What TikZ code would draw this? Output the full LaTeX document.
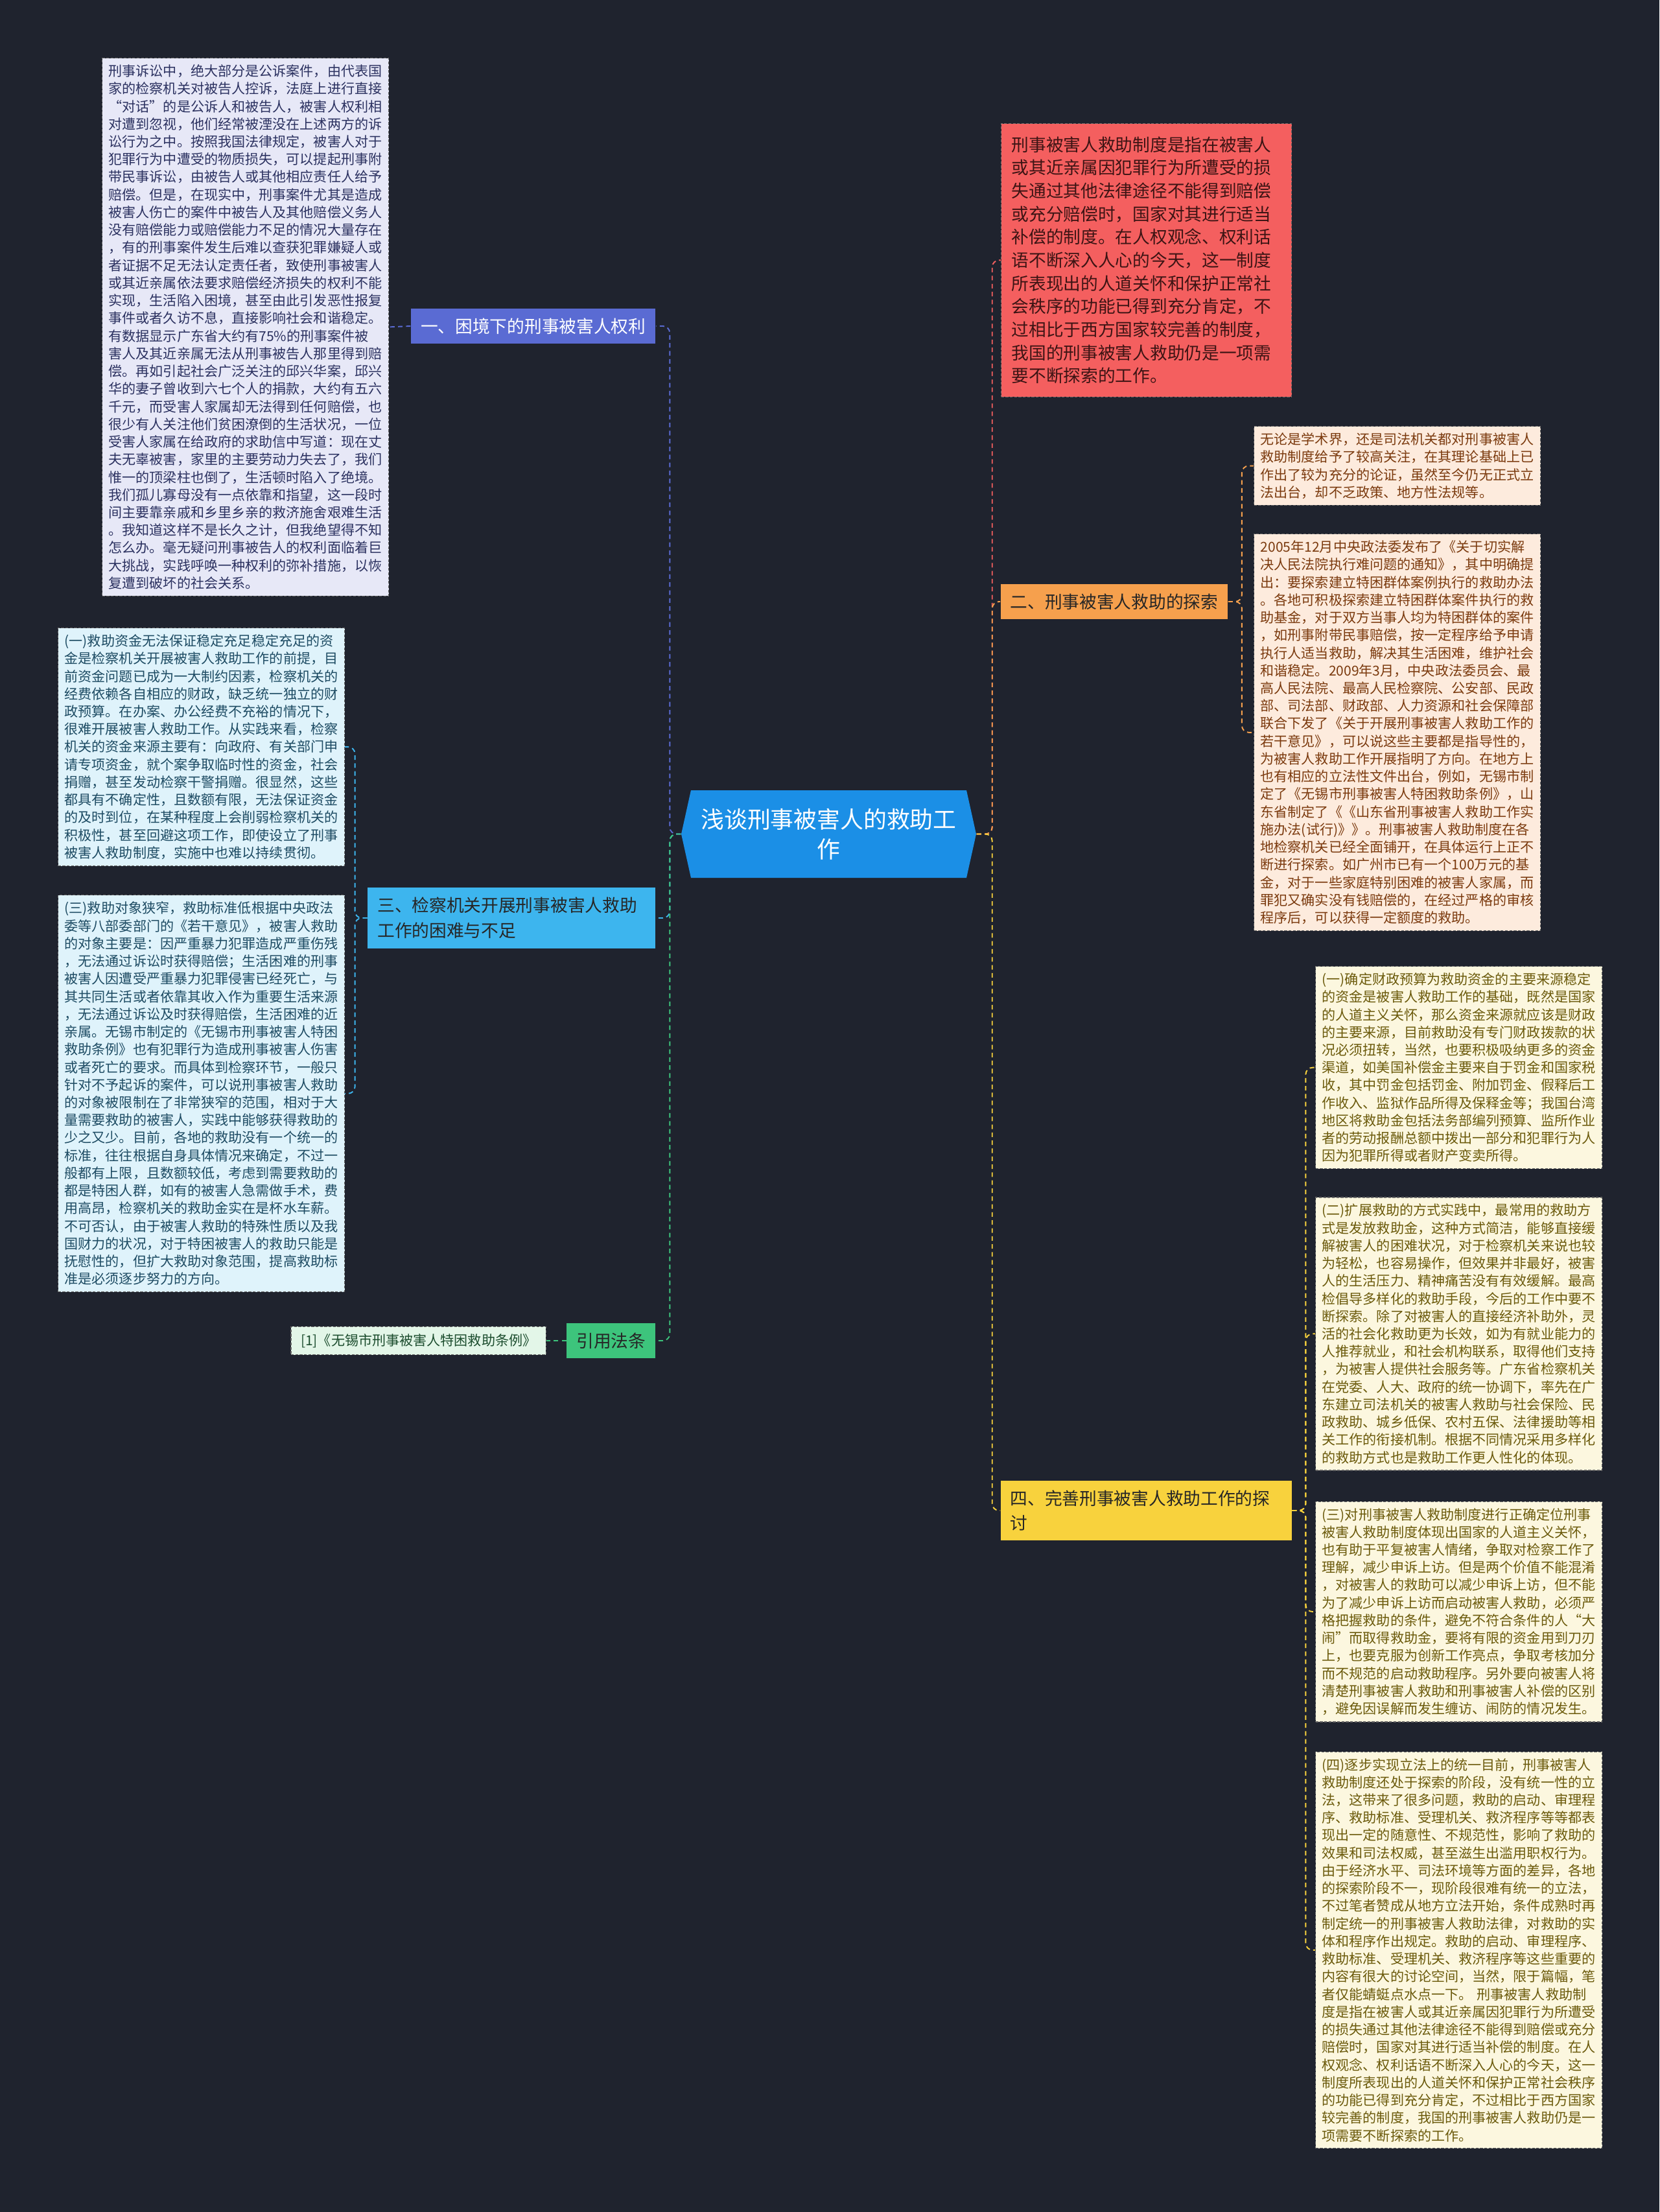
\documentclass[tikz,border=0pt]{standalone}
\usepackage{fontspec}
\setmainfont{Noto Sans CJK SC}
\usepackage{tikz}
\usetikzlibrary{positioning, shapes.symbols}

\definecolor{bg}{HTML}{1F232E}
\definecolor{rootblue}{HTML}{1B8FE6}
\definecolor{violet1}{HTML}{5A6BD3}
\definecolor{orange2}{HTML}{F6A04D}
\definecolor{sky3}{HTML}{3DB5EE}
\definecolor{yellow4}{HTML}{F8D23D}
\definecolor{green5}{HTML}{3DC47C}
\definecolor{red0}{HTML}{F45F5F}
\definecolor{lavfill}{HTML}{E7E8F7}
\definecolor{lavtext}{HTML}{2B3160}
\definecolor{cyanfill}{HTML}{DFF3FB}
\definecolor{cyantext}{HTML}{1D4B63}
\definecolor{mintfill}{HTML}{E3F6E8}
\definecolor{minttext}{HTML}{1C4D2E}
\definecolor{redtext}{HTML}{3D1414}
\definecolor{peachfill}{HTML}{FDEBDD}
\definecolor{peachtext}{HTML}{7B3A0E}
\definecolor{creamfill}{HTML}{FCF7DF}
\definecolor{creamtext}{HTML}{6B5A0B}

\begin{document}
\begin{tikzpicture}

		\tikzstyle{topic}=[signal,signal to=west and east,signal pointer angle=155,
			fill=rootblue,text=white,minimum width=4.55cm,minimum height=1.35cm,
			align=center,inner sep=0pt,font=\fontsize{10.2pt}{13pt}\selectfont]
		\tikzstyle{branch}=[rectangle,inner xsep=0.15cm,inner ysep=0.15cm,align=left,
			font=\fontsize{7.6pt}{11pt}\selectfont]
		\tikzstyle{leaf}=[rectangle,draw=black!60,dash pattern=on 1.2pt off 0.7pt,
			line width=0.35pt,align=left,text width=4.22cm,inner xsep=0.1cm,
			inner ysep=0.1cm,anchor=north west,font=\fontsize{6pt}{7.75pt}\selectfont]
		\tikzstyle{link}=[dash pattern=on 2pt off 1.5pt,line width=0.55pt,rounded corners=3pt]

		\fill[bg] (0,0) rectangle (25.6,-34.12);
		\useasboundingbox (0,0) rectangle (25.6,-34.12);

		\node [topic] (ROOT) at (12.785,-12.865) {浅谈刑事被害人的救助工\\作};

		% left side
		\node [branch, fill=violet1, text=white, anchor=east] (B1) at (10.12,-5.03) {一、困境下的刑事被害人权利};
		\node [branch, fill=sky3, text=black!85, anchor=east, text width=4.14cm] (B3) at (10.12,-14.16)
			{三、检察机关开展刑事被害人救助\\工作的困难与不足};
		\node [branch, fill=green5, text=black!85, anchor=east] (B5) at (10.12,-20.68) {引用法条};

		\node [leaf, fill=lavfill, text=lavtext] (L1) at (1.57,-0.89) {刑事诉讼中，绝大部分是公诉案件，由代表国\\
家的检察机关对被告人控诉，法庭上进行直接\\
“对话”的是公诉人和被告人，被害人权利相\\
对遭到忽视，他们经常被湮没在上述两方的诉\\
讼行为之中。按照我国法律规定，被害人对于\\
犯罪行为中遭受的物质损失，可以提起刑事附\\
带民事诉讼，由被告人或其他相应责任人给予\\
赔偿。但是，在现实中，刑事案件尤其是造成\\
被害人伤亡的案件中被告人及其他赔偿义务人\\
没有赔偿能力或赔偿能力不足的情况大量存在\\
，有的刑事案件发生后难以查获犯罪嫌疑人或\\
者证据不足无法认定责任者，致使刑事被害人\\
或其近亲属依法要求赔偿经济损失的权利不能\\
实现，生活陷入困境，甚至由此引发恶性报复\\
事件或者久访不息，直接影响社会和谐稳定。\\
有数据显示广东省大约有75\%的刑事案件被\\
害人及其近亲属无法从刑事被告人那里得到赔\\
偿。再如引起社会广泛关注的邱兴华案，邱兴\\
华的妻子曾收到六七个人的捐款，大约有五六\\
千元，而受害人家属却无法得到任何赔偿，也\\
很少有人关注他们贫困潦倒的生活状况，一位\\
受害人家属在给政府的求助信中写道：现在丈\\
夫无辜被害，家里的主要劳动力失去了，我们\\
惟一的顶梁柱也倒了，生活顿时陷入了绝境。\\
我们孤儿寡母没有一点依靠和指望，这一段时\\
间主要靠亲戚和乡里乡亲的救济施舍艰难生活\\
。我知道这样不是长久之计，但我绝望得不知\\
怎么办。毫无疑问刑事被告人的权利面临着巨\\
大挑战，实践呼唤一种权利的弥补措施，以恢\\
复遭到破坏的社会关系。};

		\node [leaf, fill=cyanfill, text=cyantext] (L2) at (0.89,-9.68) {(一)救助资金无法保证稳定充足稳定充足的资\\
金是检察机关开展被害人救助工作的前提，目\\
前资金问题已成为一大制约因素，检察机关的\\
经费依赖各自相应的财政，缺乏统一独立的财\\
政预算。在办案、办公经费不充裕的情况下，\\
很难开展被害人救助工作。从实践来看，检察\\
机关的资金来源主要有：向政府、有关部门申\\
请专项资金，就个案争取临时性的资金，社会\\
捐赠，甚至发动检察干警捐赠。很显然，这些\\
都具有不确定性，且数额有限，无法保证资金\\
的及时到位，在某种程度上会削弱检察机关的\\
积极性，甚至回避这项工作，即使设立了刑事\\
被害人救助制度，实施中也难以持续贯彻。};

		\node [leaf, fill=cyanfill, text=cyantext, below=0.44cm of L2] (L3) {(三)救助对象狭窄，救助标准低根据中央政法\\
委等八部委部门的《若干意见》，被害人救助\\
的对象主要是：因严重暴力犯罪造成严重伤残\\
，无法通过诉讼时获得赔偿；生活困难的刑事\\
被害人因遭受严重暴力犯罪侵害已经死亡，与\\
其共同生活或者依靠其收入作为重要生活来源\\
，无法通过诉讼及时获得赔偿，生活困难的近\\
亲属。无锡市制定的《无锡市刑事被害人特困\\
救助条例》也有犯罪行为造成刑事被害人伤害\\
或者死亡的要求。而具体到检察环节，一般只\\
针对不予起诉的案件，可以说刑事被害人救助\\
的对象被限制在了非常狭窄的范围，相对于大\\
量需要救助的被害人，实践中能够获得救助的\\
少之又少。目前，各地的救助没有一个统一的\\
标准，往往根据自身具体情况来确定，不过一\\
般都有上限，且数额较低，考虑到需要救助的\\
都是特困人群，如有的被害人急需做手术，费\\
用高昂，检察机关的救助金实在是杯水车薪。\\
不可否认，由于被害人救助的特殊性质以及我\\
国财力的状况，对于特困被害人的救助只能是\\
抚慰性的，但扩大救助对象范围，提高救助标\\
准是必须逐步努力的方向。};

		\node [leaf, fill=mintfill, text=minttext, text width=, inner xsep=0.15cm, inner ysep=0.11cm,
			anchor=east] (REF) at (8.43,-20.68) {[1]《无锡市刑事被害人特困救助条例》};

		% right side
		\node [leaf, fill=red0, text=redtext, text width=4.16cm, inner xsep=0.16cm, inner ysep=0.2cm,
			font=\fontsize{7.6pt}{10.15pt}\selectfont] (R1) at (15.44,-1.90) {刑事被害人救助制度是指在被害人\\
或其近亲属因犯罪行为所遭受的损\\
失通过其他法律途径不能得到赔偿\\
或充分赔偿时，国家对其进行适当\\
补偿的制度。在人权观念、权利话\\
语不断深入人心的今天，这一制度\\
所表现出的人道关怀和保护正常社\\
会秩序的功能已得到充分肯定，不\\
过相比于西方国家较完善的制度，\\
我国的刑事被害人救助仍是一项需\\
要不断探索的工作。};

		\node [branch, fill=orange2, text=black!85, anchor=west] (B2) at (15.43,-9.28) {二、刑事被害人救助的探索};
		\node [branch, fill=yellow4, text=black!85, anchor=west, text width=4.19cm] (B4) at (15.43,-23.30)
			{四、完善刑事被害人救助工作的探\\讨};

		\node [leaf, fill=peachfill, text=peachtext] (R2) at (19.34,-6.57) {无论是学术界，还是司法机关都对刑事被害人\\
救助制度给予了较高关注，在其理论基础上已\\
作出了较为充分的论证，虽然至今仍无正式立\\
法出台，却不乏政策、地方性法规等。};

		\node [leaf, fill=peachfill, text=peachtext, below=0.43cm of R2] (R3) {2005年12月中央政法委发布了《关于切实解\\
决人民法院执行难问题的通知》，其中明确提\\
出：要探索建立特困群体案例执行的救助办法\\
。各地可积极探索建立特困群体案件执行的救\\
助基金，对于双方当事人均为特困群体的案件\\
，如刑事附带民事赔偿，按一定程序给予申请\\
执行人适当救助，解决其生活困难，维护社会\\
和谐稳定。2009年3月，中央政法委员会、最\\
高人民法院、最高人民检察院、公安部、民政\\
部、司法部、财政部、人力资源和社会保障部\\
联合下发了《关于开展刑事被害人救助工作的\\
若干意见》，可以说这些主要都是指导性的，\\
为被害人救助工作开展指明了方向。在地方上\\
也有相应的立法性文件出台，例如，无锡市制\\
定了《无锡市刑事被害人特困救助条例》，山\\
东省制定了《《山东省刑事被害人救助工作实\\
施办法(试行)》》。刑事被害人救助制度在各\\
地检察机关已经全面铺开，在具体运行上正不\\
断进行探索。如广州市已有一个100万元的基\\
金，对于一些家庭特别困难的被害人家属，而\\
罪犯又确实没有钱赔偿的，在经过严格的审核\\
程序后，可以获得一定额度的救助。};

		\node [leaf, fill=creamfill, text=creamtext] (Y1) at (20.29,-14.90) {(一)确定财政预算为救助资金的主要来源稳定\\
的资金是被害人救助工作的基础，既然是国家\\
的人道主义关怀，那么资金来源就应该是财政\\
的主要来源，目前救助没有专门财政拨款的状\\
况必须扭转，当然，也要积极吸纳更多的资金\\
渠道，如美国补偿金主要来自于罚金和国家税\\
收，其中罚金包括罚金、附加罚金、假释后工\\
作收入、监狱作品所得及保释金等；我国台湾\\
地区将救助金包括法务部编列预算、监所作业\\
者的劳动报酬总额中拨出一部分和犯罪行为人\\
因为犯罪所得或者财产变卖所得。};

		\node [leaf, fill=creamfill, text=creamtext, below=0.43cm of Y1] (Y2) {(二)扩展救助的方式实践中，最常用的救助方\\
式是发放救助金，这种方式简洁，能够直接缓\\
解被害人的困难状况，对于检察机关来说也较\\
为轻松，也容易操作，但效果并非最好，被害\\
人的生活压力、精神痛苦没有有效缓解。最高\\
检倡导多样化的救助手段，今后的工作中要不\\
断探索。除了对被害人的直接经济补助外，灵\\
活的社会化救助更为长效，如为有就业能力的\\
人推荐就业，和社会机构联系，取得他们支持\\
，为被害人提供社会服务等。广东省检察机关\\
在党委、人大、政府的统一协调下，率先在广\\
东建立司法机关的被害人救助与社会保险、民\\
政救助、城乡低保、农村五保、法律援助等相\\
关工作的衔接机制。根据不同情况采用多样化\\
的救助方式也是救助工作更人性化的体现。};

		\node [leaf, fill=creamfill, text=creamtext, below=0.47cm of Y2] (Y3) {(三)对刑事被害人救助制度进行正确定位刑事\\
被害人救助制度体现出国家的人道主义关怀，\\
也有助于平复被害人情绪，争取对检察工作了\\
理解，减少申诉上访。但是两个价值不能混淆\\
，对被害人的救助可以减少申诉上访，但不能\\
为了减少申诉上访而启动被害人救助，必须严\\
格把握救助的条件，避免不符合条件的人“大\\
闹”而取得救助金，要将有限的资金用到刀刃\\
上，也要克服为创新工作亮点，争取考核加分\\
而不规范的启动救助程序。另外要向被害人将\\
清楚刑事被害人救助和刑事被害人补偿的区别\\
，避免因误解而发生缠访、闹防的情况发生。};

		\node [leaf, fill=creamfill, text=creamtext, below=0.45cm of Y3] (Y4) {(四)逐步实现立法上的统一目前，刑事被害人\\
救助制度还处于探索的阶段，没有统一性的立\\
法，这带来了很多问题，救助的启动、审理程\\
序、救助标准、受理机关、救济程序等等都表\\
现出一定的随意性、不规范性，影响了救助的\\
效果和司法权威，甚至滋生出滥用职权行为。\\
由于经济水平、司法环境等方面的差异，各地\\
的探索阶段不一，现阶段很难有统一的立法，\\
不过笔者赞成从地方立法开始，条件成熟时再\\
制定统一的刑事被害人救助法律，对救助的实\\
体和程序作出规定。救助的启动、审理程序、\\
救助标准、受理机关、救济程序等这些重要的\\
内容有很大的讨论空间，当然，限于篇幅，笔\\
者仅能蜻蜓点水点一下。 刑事被害人救助制\\
度是指在被害人或其近亲属因犯罪行为所遭受\\
的损失通过其他法律途径不能得到赔偿或充分\\
赔偿时，国家对其进行适当补偿的制度。在人\\
权观念、权利话语不断深入人心的今天，这一\\
制度所表现出的人道关怀和保护正常社会秩序\\
的功能已得到充分肯定，不过相比于西方国家\\
较完善的制度，我国的刑事被害人救助仍是一\\
项需要不断探索的工作。};

		% connectors
		\draw [link, draw=violet1] (ROOT.west) -- ++(-0.17,0) |- (B1.east);
		\draw [link, draw=sky3] (ROOT.west) -- ++(-0.17,0) |- (B3.east);
		\draw [link, draw=green5] (ROOT.west) -- ++(-0.17,0) |- (B5.east);
		\draw [link, draw=red0] (ROOT.east) -- ++(0.24,0) |- (R1.west);
		\draw [link, draw=orange2] (ROOT.east) -- ++(0.24,0) |- (B2.west);
		\draw [link, draw=yellow4] (ROOT.east) -- ++(0.24,0) |- (B4.west);

		\draw [link, draw=violet1] (B1.west) -- (L1.east);
		\foreach \leafname in {L2,L3}
			\draw [link, draw=sky3] (B3.west) -- ++(-0.19,0) |- (\leafname.east);
		\draw [link, draw=green5] (B5.west) -- (REF.east);
		\foreach \leafname in {R2,R3}
			\draw [link, draw=orange2] (B2.east) -- ++(0.21,0) |- (\leafname.west);
		\foreach \leafname in {Y1,Y2,Y3,Y4}
			\draw [link, draw=yellow4] (B4.east) -- ++(0.21,0) |- (\leafname.west);
	\end{tikzpicture}
\end{document}
